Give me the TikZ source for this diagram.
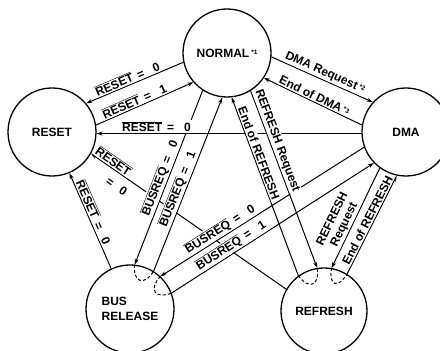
\documentclass[tikz,border=0pt]{standalone}
\usepackage{fontspec}
\setmainfont{Liberation Sans}
\usetikzlibrary{arrows.meta,calc}
\pgfdeclarelayer{labels}
\pgfdeclarelayer{fg}
\pgfsetlayers{main,labels,fg}
\newcommand{\ov}[1]{$\overline{\mbox{#1}}$}
\newcommand{\eqs}[1]{\hspace{5pt}=\hspace{10pt}#1}
\newcommand{\note}[1]{\,\raisebox{2.5pt}{\fontsize{6.5}{7}\selectfont #1}}
\begin{document}
\begin{tikzpicture}[x=1pt,y=1pt,
  state/.style={circle, draw, line width=1.3pt, minimum size=88pt, inner sep=0pt,
                font=\bfseries\fontsize{12}{15}\selectfont},
  tr/.style={line width=1pt, -{Stealth[length=6pt,width=4pt]}},
  lab/.style={sloped, above=0.5pt, fill=white, inner sep=1pt,
              font=\bfseries\fontsize{12}{13}\selectfont},
  labb/.style={sloped, below=7pt, fill=white, inner sep=1pt,
              font=\bfseries\fontsize{12}{13}\selectfont},
  via/.style={line width=1pt, dash pattern=on 3pt off 2.2pt}]
\useasboundingbox (0,0) rectangle (440,351);
\fill[white] (0,0) rectangle (440,351);

\begin{pgfonlayer}{fg}
\node[state] (normal) at (227,298) {NORMAL\note{*1}};
\node[state] (reset) at (52,219) {RESET};
\node[state] (dma) at (406,219) {DMA};
\node[state, align=left] (busrel) at (130,42) {BUS\\RELEASE};
\node[state, minimum size=86pt] (refresh) at (324,40) {REFRESH};
\end{pgfonlayer}

% connectors
\draw[tr] (normal.192) -- (reset.40);
\draw[tr] (reset.9) -- (normal.221);
\draw[tr] (dma.182) -- (reset.-2);
\draw[tr] (busrel.115) -- (reset.-67);
\draw[tr] (refresh.150) -- (reset.-29);
\draw[tr] (normal.237) -- (busrel.84);
\draw[tr] (busrel.58) -- (normal.264);
\draw[tr] (normal.-5) -- (dma.138);
\draw[tr] (dma.171) -- (normal.-34);
\draw[tr] (normal.302) -- (refresh.99);
\draw[tr] (refresh.126) -- (normal.276);
\draw[tr] (dma.234) -- (refresh.80);
\draw[tr] (refresh.58) -- (dma.258);
\draw[tr] (dma.200) -- (busrel.47);
\draw[tr] (busrel.21) -- (dma.224);

% pass-through marks
\draw[via] (busrel.84) .. controls ($(busrel.84)!18pt!(busrel.center)$) and ($(busrel.58)!18pt!(busrel.center)$) .. (busrel.58);
\draw[via] (busrel.47) .. controls ($(busrel.47)!18pt!(busrel.center)$) and ($(busrel.21)!18pt!(busrel.center)$) .. (busrel.21);
\draw[via] (refresh.126) .. controls ($(refresh.126)!18pt!(refresh.center)$) and ($(refresh.99)!18pt!(refresh.center)$) .. (refresh.99);
\draw[via] (refresh.80) .. controls ($(refresh.80)!18pt!(refresh.center)$) and ($(refresh.58)!18pt!(refresh.center)$) .. (refresh.58);

\begin{pgfonlayer}{labels}
\path (normal.192) -- node[lab, pos=.55] (l1) {\ov{RESET}\eqs{0}} (reset.40);
\path (reset.9) -- node[lab, pos=.42] (l2) {\ov{RESET}\eqs{1}} (normal.221);
\path (dma.182) -- node[lab, pos=.774] (l3) {\ov{RESET}\eqs{0}} (reset.-2);
\path (busrel.115) -- node[lab, pos=.56] (l4) {\ov{RESET}\eqs{0}} (reset.-67);
\path (refresh.150) -- node[lab, pos=.904] (l5a) {\ov{RESET}}
                       node[labb, pos=.833] (l5b) {=\hspace{9pt}0} (reset.-29);
\path (normal.237) -- node[lab, pos=.52] (l6) {\ov{BUSREQ}\eqs{0}} (busrel.84);
\path (busrel.58) -- node[lab, pos=.456] (l7) {\ov{BUSREQ}\eqs{1}} (normal.264);
\path (normal.-5) -- node[lab, pos=.5] (l8) {DMA Request\note{*2}} (dma.138);
\path (dma.171) -- node[lab, pos=.51] (l9) {End of DMA\note{*3}} (normal.-34);
\path (normal.302) -- node[lab, pos=.296] (l10) {REFRESH Request} (refresh.99);
\path (refresh.126) -- node[lab, pos=.676] (l11) {End of REFRESH} (normal.276);
\path (dma.234) -- node[lab, pos=.6, align=center] (l12) {REFRESH\\Request} (refresh.80);
\path (refresh.58) -- node[lab, pos=.52] (l13) {End of REFRESH} (dma.258);
\path (dma.200) -- node[lab, pos=.687] (l14) {\ov{BUSREQ}\eqs{0}} (busrel.47);
\path (busrel.21) -- node[lab, pos=.314] (l15) {\ov{BUSREQ}\eqs{1}} (dma.224);
\end{pgfonlayer}
\end{tikzpicture}
\end{document}
